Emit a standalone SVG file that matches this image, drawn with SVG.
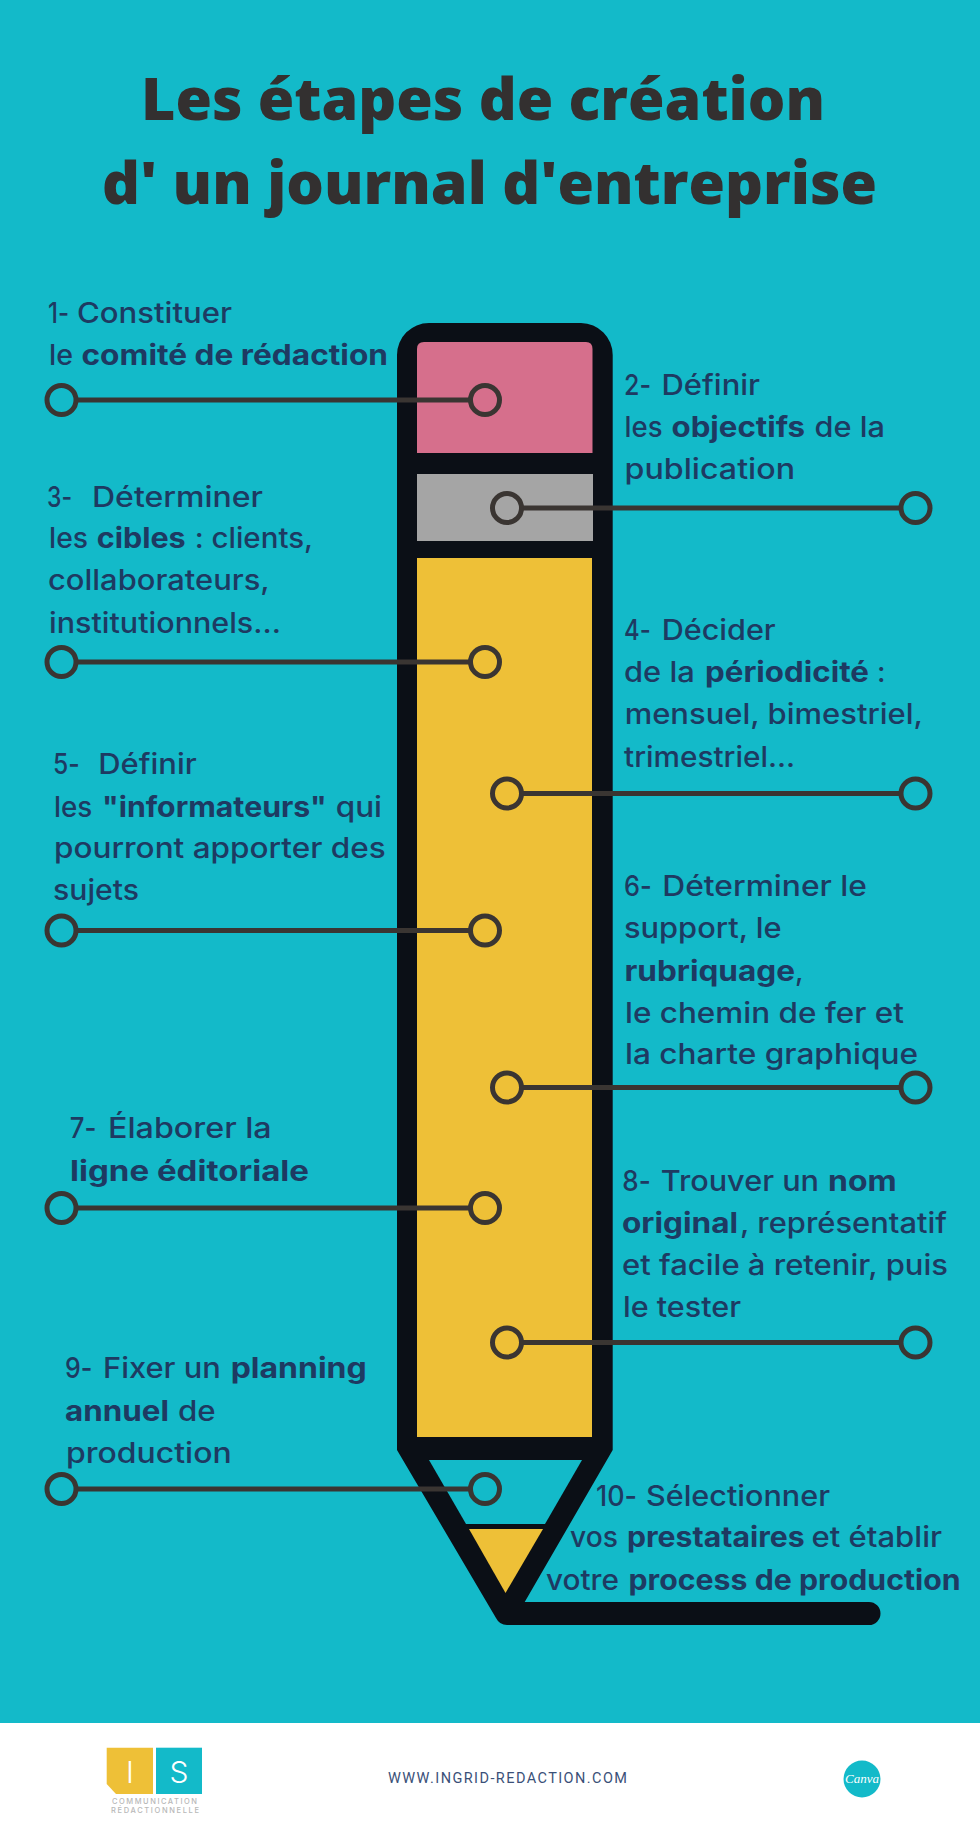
<svg xmlns="http://www.w3.org/2000/svg" width="980" height="1837" viewBox="0 0 980 1837">
<style>
.t{font-family:"Inter","Noto Sans","Liberation Sans",sans-serif;font-size:28px;font-weight:500;fill:#1e3a62;font-variant-ligatures:none}
.b{font-weight:700}
.title{font-family:"Open Sans","Lato","Liberation Sans",sans-serif;font-size:58px;font-weight:800;fill:#333030;font-variant-ligatures:none}
.ink{fill:#0b0f16}
.c{fill:none;stroke:#3a3532;stroke-width:5}
.l{stroke:#3a3532;stroke-width:5}
.logo{font-family:"Inter","Liberation Sans",sans-serif;font-weight:300;font-size:30px;fill:#fff;text-anchor:middle}
.sub{font-family:"Inter","Liberation Sans",sans-serif;font-size:7.5px;font-weight:500;fill:#b8b8b8}
</style>
<rect width="980" height="1837" fill="#13bac9"/>
<rect y="1723" width="980" height="114" fill="#fff"/>
<g id="title">
<text class="title" y="120"><tspan x="141" textLength="684" lengthAdjust="spacingAndGlyphs">Les étapes de création</tspan></text>
<text class="title" y="204"><tspan x="102" textLength="775" lengthAdjust="spacingAndGlyphs">d' un journal d'entreprise</tspan></text>
</g>
<g id="pencil">
<path class="ink" d="M397 1450V355A32 32 0 0 1 429 323H581A32 32 0 0 1 612.7 355V1450L524.7 1602H869A11.5 11.5 0 0 1 869 1625H507Q499.500 1625 496 1618Z"/>
<path fill="#d66f8c" d="M417 453V349Q417 342 424 342H586Q592.500 342 592.500 349V453Z"/>
<rect x="417" y="474" width="176" height="67" fill="#a5a5a5"/>
<rect x="417" y="558" width="175" height="879" fill="#eec037"/>
<path fill="#13bac9" d="M429 1460H582L545 1524H466Z"/>
<path fill="#eec037" d="M469 1529H543L505.500 1593Z"/>
</g>
<g id="connectors">
<line class="l" x1="76" y1="400" x2="471" y2="400"/><circle class="c" cx="61.500" cy="400" r="14.500"/><circle class="c" cx="485" cy="400" r="14.500"/>
<line class="l" x1="521" y1="508" x2="901" y2="508"/><circle class="c" cx="507" cy="508" r="14.500"/><circle class="c" cx="915.500" cy="508" r="14.500"/>
<line class="l" x1="76" y1="662" x2="471" y2="662"/><circle class="c" cx="61.500" cy="662" r="14.500"/><circle class="c" cx="485" cy="662" r="14.500"/>
<line class="l" x1="521" y1="793.500" x2="901" y2="793.500"/><circle class="c" cx="507" cy="793.500" r="14.500"/><circle class="c" cx="915.500" cy="793.500" r="14.500"/>
<line class="l" x1="76" y1="930.500" x2="471" y2="930.500"/><circle class="c" cx="61.500" cy="930.500" r="14.500"/><circle class="c" cx="485" cy="930.500" r="14.500"/>
<line class="l" x1="521" y1="1087.500" x2="901" y2="1087.500"/><circle class="c" cx="507" cy="1087.500" r="14.500"/><circle class="c" cx="915.500" cy="1087.500" r="14.500"/>
<line class="l" x1="76" y1="1208" x2="471" y2="1208"/><circle class="c" cx="61.500" cy="1208" r="14.500"/><circle class="c" cx="485" cy="1208" r="14.500"/>
<line class="l" x1="521" y1="1342.500" x2="901" y2="1342.500"/><circle class="c" cx="507" cy="1342.500" r="14.500"/><circle class="c" cx="915.500" cy="1342.500" r="14.500"/>
<line class="l" x1="76" y1="1489" x2="471" y2="1489"/><circle class="c" cx="61.500" cy="1489" r="14.500"/><circle class="c" cx="485" cy="1489" r="14.500"/>
</g>
<g id="step-1" transform="translate(-1 0)">
<text class="t" y="323"><tspan x="49" textLength="21" lengthAdjust="spacingAndGlyphs">1-</tspan> <tspan x="78" textLength="155" lengthAdjust="spacingAndGlyphs">Constituer</tspan></text>
<text class="t" y="365"><tspan x="50" textLength="24" lengthAdjust="spacingAndGlyphs">le</tspan> <tspan class="b" x="82.500" textLength="306.500" lengthAdjust="spacingAndGlyphs">comité de rédaction</tspan></text>
</g>
<g id="step-2" transform="translate(-1 0)">
<text class="t" y="395"><tspan x="625" textLength="27" lengthAdjust="spacingAndGlyphs">2-</tspan> <tspan x="662.500" textLength="98.500" lengthAdjust="spacingAndGlyphs">Définir</tspan></text>
<text class="t" y="437"><tspan x="625.600" textLength="38" lengthAdjust="spacingAndGlyphs">les</tspan> <tspan class="b" x="672.500" textLength="133.500" lengthAdjust="spacingAndGlyphs">objectifs</tspan> <tspan x="815.600" textLength="70.400" lengthAdjust="spacingAndGlyphs">de la</tspan></text>
<text class="t" y="479"><tspan x="625.600" textLength="170.400" lengthAdjust="spacingAndGlyphs">publication</tspan></text>
</g>
<g id="step-3" transform="translate(-1 0)">
<text class="t" y="506.700"><tspan x="48" textLength="25" lengthAdjust="spacingAndGlyphs">3-</tspan> <tspan x="93" textLength="171" lengthAdjust="spacingAndGlyphs">Déterminer</tspan></text>
<text class="t" y="548"><tspan x="50" textLength="39" lengthAdjust="spacingAndGlyphs">les</tspan> <tspan class="b" x="97.700" textLength="89" lengthAdjust="spacingAndGlyphs">cibles</tspan> <tspan x="195.700" textLength="118.300" lengthAdjust="spacingAndGlyphs">: clients,</tspan></text>
<text class="t" y="590"><tspan x="49" textLength="221.700" lengthAdjust="spacingAndGlyphs">collaborateurs,</tspan></text>
<text class="t" y="632.700"><tspan x="50" textLength="232" lengthAdjust="spacingAndGlyphs">institutionnels...</tspan></text>
</g>
<g id="step-4" transform="translate(-1 0)">
<text class="t" y="640"><tspan x="625" textLength="26.700" lengthAdjust="spacingAndGlyphs">4-</tspan> <tspan x="662.700" textLength="114" lengthAdjust="spacingAndGlyphs">Décider</tspan></text>
<text class="t" y="681.700"><tspan x="625" textLength="70.700" lengthAdjust="spacingAndGlyphs">de la</tspan> <tspan class="b" x="706" textLength="164" lengthAdjust="spacingAndGlyphs">périodicité</tspan> <tspan x="878">:</tspan></text>
<text class="t" y="724"><tspan x="625.700" textLength="298.300" lengthAdjust="spacingAndGlyphs">mensuel, bimestriel,</tspan></text>
<text class="t" y="766.700"><tspan x="625" textLength="171" lengthAdjust="spacingAndGlyphs">trimestriel...</tspan></text>
</g>
<g id="step-5" transform="translate(-1 0)">
<text class="t" y="774"><tspan x="54" textLength="26.700" lengthAdjust="spacingAndGlyphs">5-</tspan> <tspan x="99.300" textLength="98.400" lengthAdjust="spacingAndGlyphs">Définir</tspan></text>
<text class="t" y="816.700"><tspan x="55" textLength="38.300" lengthAdjust="spacingAndGlyphs">les</tspan> <tspan class="b" x="103" textLength="224.700" lengthAdjust="spacingAndGlyphs">"informateurs"</tspan> <tspan x="336.700" textLength="46.300" lengthAdjust="spacingAndGlyphs">qui</tspan></text>
<text class="t" y="858"><tspan x="55" textLength="331.700" lengthAdjust="spacingAndGlyphs">pourront apporter des</tspan></text>
<text class="t" y="900"><tspan x="54" textLength="86" lengthAdjust="spacingAndGlyphs">sujets</tspan></text>
</g>
<g id="step-6" transform="translate(-1 0)">
<text class="t" y="896"><tspan x="625" textLength="27.700" lengthAdjust="spacingAndGlyphs">6-</tspan> <tspan x="663.300" textLength="204.700" lengthAdjust="spacingAndGlyphs">Déterminer le</tspan></text>
<text class="t" y="938"><tspan x="625" textLength="157.700" lengthAdjust="spacingAndGlyphs">support, le</tspan></text>
<text class="t" y="980.700"><tspan class="b" x="625.500" textLength="170.500" lengthAdjust="spacingAndGlyphs">rubriquage</tspan>,</text>
<text class="t" y="1022.700"><tspan x="626" textLength="279" lengthAdjust="spacingAndGlyphs">le chemin de fer et</tspan></text>
<text class="t" y="1064"><tspan x="626" textLength="293" lengthAdjust="spacingAndGlyphs">la charte graphique</tspan></text>
</g>
<g id="step-7" transform="translate(-1 0)">
<text class="t" y="1138"><tspan x="70.700" textLength="26.600" lengthAdjust="spacingAndGlyphs">7-</tspan> <tspan x="109" textLength="163.700" lengthAdjust="spacingAndGlyphs">Élaborer la</tspan></text>
<text class="t" y="1181"><tspan class="b" x="71" textLength="239" lengthAdjust="spacingAndGlyphs">ligne éditoriale</tspan></text>
</g>
<g id="step-8" transform="translate(-1 0)">
<text class="t" y="1190.700"><tspan x="623.300" textLength="28.400" lengthAdjust="spacingAndGlyphs">8-</tspan> <tspan x="661.700" textLength="158.300" lengthAdjust="spacingAndGlyphs">Trouver un</tspan> <tspan class="b" x="829" textLength="68.700" lengthAdjust="spacingAndGlyphs">nom</tspan></text>
<text class="t" y="1233"><tspan class="b" x="623" textLength="116" lengthAdjust="spacingAndGlyphs">original</tspan><tspan x="741" textLength="207" lengthAdjust="spacingAndGlyphs">, représentatif</tspan></text>
<text class="t" y="1275"><tspan x="623" textLength="326" lengthAdjust="spacingAndGlyphs">et facile à retenir, puis</tspan></text>
<text class="t" y="1317"><tspan x="624" textLength="118" lengthAdjust="spacingAndGlyphs">le tester</tspan></text>
</g>
<g id="step-9" transform="translate(-1 0)">
<text class="t" y="1378"><tspan x="66" textLength="27.300" lengthAdjust="spacingAndGlyphs">9-</tspan> <tspan x="104" textLength="117.700" lengthAdjust="spacingAndGlyphs">Fixer un</tspan> <tspan class="b" x="231.700" textLength="136" lengthAdjust="spacingAndGlyphs">planning</tspan></text>
<text class="t" y="1420.700"><tspan class="b" x="66" textLength="104" lengthAdjust="spacingAndGlyphs">annuel</tspan> <tspan x="179" textLength="37.700" lengthAdjust="spacingAndGlyphs">de</tspan></text>
<text class="t" y="1462.700"><tspan x="67" textLength="165.700" lengthAdjust="spacingAndGlyphs">production</tspan></text>
</g>
<g id="step-10" transform="translate(-1 0)">
<text class="t" y="1506"><tspan x="597" textLength="41" lengthAdjust="spacingAndGlyphs">10-</tspan> <tspan x="647" textLength="184" lengthAdjust="spacingAndGlyphs">Sélectionner</tspan></text>
<text class="t" y="1547"><tspan x="571" textLength="48" lengthAdjust="spacingAndGlyphs">vos</tspan> <tspan class="b" x="628" textLength="177.600" lengthAdjust="spacingAndGlyphs">prestataires</tspan> <tspan x="812.400" textLength="130.600" lengthAdjust="spacingAndGlyphs">et établir</tspan></text>
<text class="t" y="1590"><tspan x="547" textLength="73" lengthAdjust="spacingAndGlyphs">votre</tspan> <tspan class="b" x="629.500" textLength="332.200" lengthAdjust="spacingAndGlyphs">process de production</tspan></text>
</g>
<g id="footer">
<g id="logo">
<path fill="#eec037" d="M106.700 1747.700H153V1794H116L106.700 1784Z"/>
<rect x="156" y="1747.700" width="46" height="46.300" fill="#13bac9"/>
<text class="logo" x="130" y="1783">I</text>
<text class="logo" x="179" y="1783">S</text>
<text class="sub" y="1804"><tspan x="112" textLength="85" lengthAdjust="spacing">COMMUNICATION</tspan></text>
<text class="sub" y="1813"><tspan x="111" textLength="88" lengthAdjust="spacing">RÉDACTIONNELLE</tspan></text>
</g>
<text y="1783" font-family="Roboto,'Liberation Sans',sans-serif" font-size="14.500" fill="#3a5078"><tspan x="388" textLength="239" lengthAdjust="spacing">WWW.INGRID-REDACTION.COM</tspan></text>
<g id="canva">
<circle cx="862" cy="1779" r="18.500" fill="#13bac9"/>
<text x="862" y="1783" text-anchor="middle" font-family="'Liberation Serif',serif" font-style="italic" font-size="13" fill="#fff">Canva</text>
</g>
</g>
</svg>
